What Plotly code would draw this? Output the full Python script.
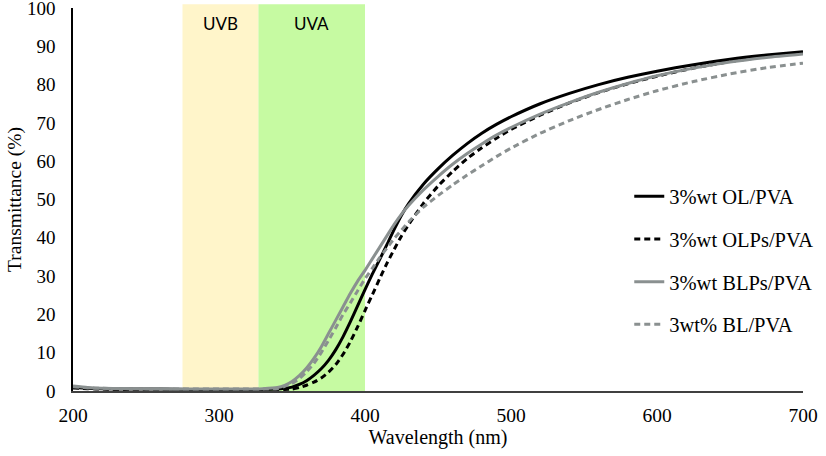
import plotly.graph_objects as go

wavelength = [200, 210, 220, 240, 260, 280, 300, 320, 330, 340, 345, 350, 355, 360, 365, 370, 375, 380,
              385, 390, 395, 400, 405, 410, 415, 420, 425, 430, 440, 450, 460, 470, 480, 490, 500,
              520, 540, 560, 580, 600, 625, 650, 675, 700]

ol_pva = [1.0, 0.7, 0.6, 0.5, 0.5, 0.4, 0.4, 0.4, 0.4, 0.5, 0.7, 1.0, 1.7, 2.7, 4.1, 5.8, 8.0, 10.8,
          14.2, 18.1, 22.3, 26.5, 30.5, 34.3, 38.2, 42.2, 45.9, 49.0, 54.0, 58.0, 61.5, 64.6, 67.3, 69.6, 71.6,
          75.0, 77.7, 80.0, 81.9, 83.5, 85.2, 86.6, 87.7, 88.6]

olps_pva = [0.8, 0.6, 0.5, 0.4, 0.4, 0.3, 0.3, 0.3, 0.3, 0.3, 0.4, 0.5, 0.9, 1.5, 2.3, 3.4, 4.9, 6.9,
            9.6, 12.9, 16.8, 21.0, 25.1, 29.3, 33.3, 37.0, 40.5, 43.5, 49.0, 53.5, 57.3, 60.7, 63.5, 66.0, 68.3,
            72.0, 75.2, 77.9, 80.2, 82.2, 84.3, 86.0, 87.3, 88.3]

blps_pva = [1.3, 0.9, 0.7, 0.6, 0.6, 0.5, 0.5, 0.5, 0.6, 0.9, 1.5, 2.5, 4.0, 6.0, 8.5, 11.5, 15.0, 18.5,
            22.0, 25.5, 28.7, 31.5, 34.5, 37.5, 40.5, 43.5, 46.2, 48.5, 52.5, 56.0, 59.2, 62.0, 64.5, 66.8, 68.8,
            72.3, 75.3, 78.0, 80.3, 82.3, 84.3, 85.9, 87.1, 88.0]

bl_pva = [1.1, 0.8, 0.7, 0.6, 0.5, 0.5, 0.5, 0.5, 0.5, 0.6, 1.2, 2.0, 3.2, 5.0, 7.2, 10.0, 13.2, 16.5,
          20.0, 23.0, 26.2, 29.3, 32.0, 34.8, 37.3, 39.8, 42.0, 44.2, 48.0, 51.0, 53.8, 56.4, 58.8, 61.2, 63.4,
          67.3, 70.6, 73.5, 76.1, 78.4, 80.8, 82.8, 84.4, 85.6]

series_names = ["3%wt OL/PVA", "3%wt OLPs/PVA", "3%wt BLPs/PVA", "3wt% BL/PVA"]
uvb_range = [275, 327]
uva_range = [327, 400]
x_ticks = [200, 300, 400, 500, 600, 700]
y_ticks = [0, 10, 20, 30, 40, 50, 60, 70, 80, 90, 100]

serif = "Liberation Serif, Times New Roman, serif"
gray = "#8a9090"

fig = go.Figure()
styles = [("#000000", "solid"), ("#000000", "6px,4px"), (gray, "solid"), (gray, "6px,4px")]
for i, (vals, name) in enumerate(zip([ol_pva, olps_pva, blps_pva, bl_pva], series_names)):
    col, dash = styles[i]
    fig.add_trace(go.Scatter(x=wavelength, y=vals, mode="lines", name=name,
                             legendgroup=f"g{i}", line=dict(color=col, width=3, dash=dash, shape="spline", smoothing=0.6)))

fig.add_shape(type="rect", xref="x", yref="paper", x0=uvb_range[0], x1=uvb_range[1], y0=0, y1=1.01,
              fillcolor="#FFF5CA", line=dict(width=0), layer="below")
fig.add_shape(type="rect", xref="x", yref="paper", x0=uva_range[0], x1=uva_range[1], y0=0, y1=1.01,
              fillcolor="#C6FAA2", line=dict(width=0), layer="below")

fig.add_annotation(x=sum(uvb_range) / 2, y=96, text="UVB", showarrow=False,
                   font=dict(family="Lato, Open Sans, sans-serif", size=17, color="#000"))
fig.add_annotation(x=sum(uva_range) / 2, y=96, text="UVA", showarrow=False,
                   font=dict(family="Lato, Open Sans, sans-serif", size=17, color="#000"))

fig.update_layout(
    width=826, height=456,
    margin=dict(l=73, r=15, t=8, b=65),
    plot_bgcolor="white", paper_bgcolor="white",
    font=dict(family=serif, size=19, color="#000"),
    showlegend=True,
    legend=dict(x=0.762, y=0.56, xanchor="left", yanchor="top", bgcolor="rgba(0,0,0,0)",
                tracegroupgap=13, font=dict(family=serif, size=20.5, color="#000")),
    xaxis=dict(range=[200, 700], tickvals=x_ticks, showgrid=False, zeroline=False, automargin=False,
               showline=True, linecolor="#404040", linewidth=1.5, ticks="", ticklabelstandoff=6,
               ticklabeloverflow="allow", tickfont=dict(size=19.5),
               title=dict(text="Wavelength (nm)", standoff=4, font=dict(family=serif, size=20))),
    yaxis=dict(range=[0, 100], tickvals=y_ticks, showgrid=False, zeroline=False, automargin=False,
               showline=True, linecolor="#000", linewidth=1.5, ticks="", ticklabelstandoff=12,
               ticklabeloverflow="allow", tickfont=dict(size=19),
               title=dict(text="Transmittance (%)", standoff=0, font=dict(family=serif, size=19.5))),
)

fig.write_html("out.html", config={"displayModeBar": False},
               post_script="document.body.style.margin='0px';")
